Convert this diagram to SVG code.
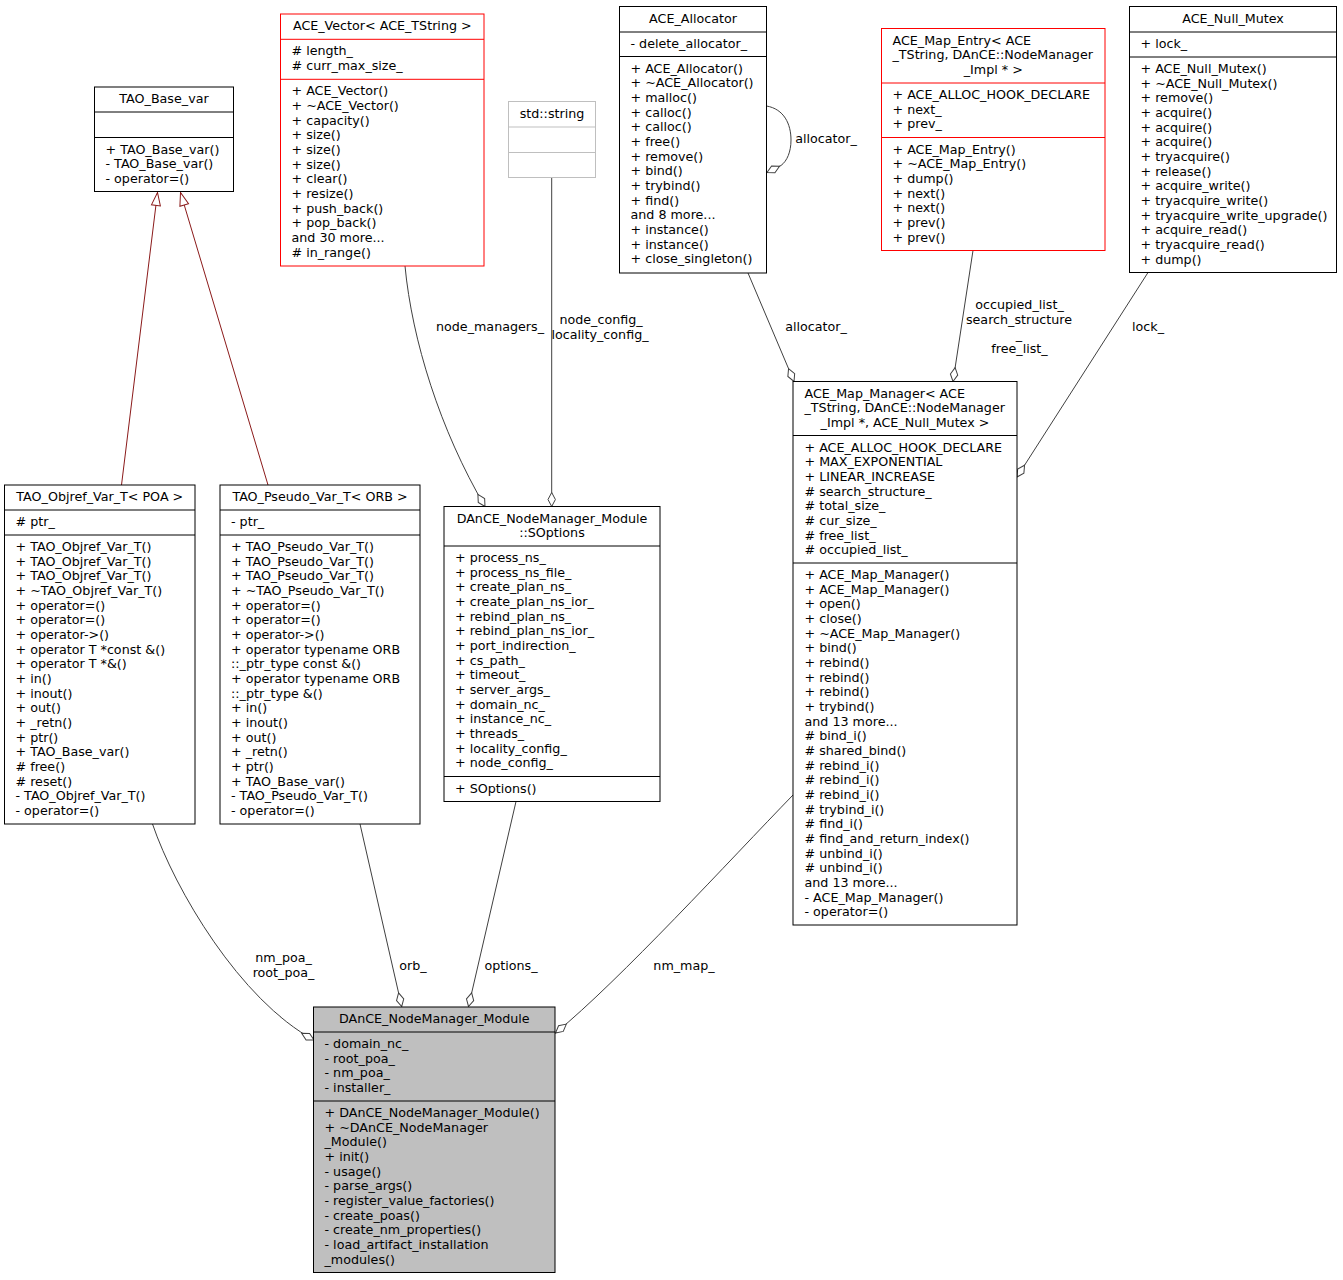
<svg xmlns="http://www.w3.org/2000/svg" width="1343" height="1280" viewBox="0 0 1343 1280">
<style>
text { font-family: "DejaVu Sans", "Bitstream Vera Sans", sans-serif; font-size: 12.7px; fill: #000; }
.c { text-anchor: middle; }
.box { fill: #fff; stroke: #000; stroke-width: 1; }
.red { fill: #fff; stroke: #ff0000; stroke-width: 1; }
.ext { fill: #fff; stroke: #bfbfbf; stroke-width: 1; }
.cur { fill: #bfbfbf; stroke: #000; stroke-width: 1; }
.sep { stroke: #000; stroke-width: 1; }
.sepr { stroke: #ff0000; stroke-width: 1; }
.sepg { stroke: #bfbfbf; stroke-width: 1; }
.use { fill: none; stroke: #404040; stroke-width: 1; marker-end: url(#dia); }
.inh { fill: none; stroke: #8b1a1a; stroke-width: 1; marker-end: url(#tri); }
</style>
<defs>
<marker id="dia" viewBox="0 0 15 8" markerUnits="userSpaceOnUse" markerWidth="15" markerHeight="8" refX="14" refY="4" orient="auto" overflow="visible">
<path d="M0,4 L7,0.3 L14,4 L7,7.7 Z" fill="#fff" stroke="#404040" stroke-width="1"/>
</marker>
<marker id="tri" viewBox="0 0 14 10" markerUnits="userSpaceOnUse" markerWidth="14" markerHeight="10" refX="13" refY="5" orient="auto" overflow="visible">
<path d="M0,0.5 L13,5 L0,9.5 Z" fill="#fff" stroke="#8b1a1a" stroke-width="1"/>
</marker>
</defs>
<rect width="1343" height="1280" fill="#fff"/>

<g id="connectors">
<path class="inh" d="M121.5,485 L157.5,192.5"/>
<path class="inh" d="M268,485 L180.5,192.5"/>
<path class="use" d="M152.5,824 C175,890 240,1000 314,1040"/>
<path class="use" d="M360,824 L401.7,1006.5"/>
<path class="use" d="M516,801.5 L468.5,1006.5"/>
<path class="use" d="M793,795 C730,860 620,980 555.5,1033"/>
<path class="use" d="M405,266 C412,340 440,430 485,506.5"/>
<path class="use" d="M551.7,177.5 L551.7,506.5"/>
<path class="use" d="M748,273 L794,381.5"/>
<path class="use" d="M766.5,106 C784,109 791,124 791,140 C791,152 787,161 781,165.5 L767,172.5"/>
<path class="use" d="M973,250.5 L953,381.5"/>
<path class="use" d="M1148,272.5 L1017,477"/>
<text class="c" x="283.5" y="962.3">nm_poa_</text>
<text class="c" x="283.5" y="977">root_poa_</text>
<text class="c" x="413" y="970">orb_</text>
<text class="c" x="511" y="970">options_</text>
<text class="c" x="684" y="970">nm_map_</text>
<text class="c" x="490" y="331">node_managers_</text>
<text class="c" x="601" y="324.3">node_config_</text>
<text class="c" x="600" y="339">locality_config_</text>
<text class="c" x="816" y="331">allocator_</text>
<text class="c" x="826" y="142.5">allocator_</text>
<text class="c" x="1019.5" y="309.3">occupied_list_</text>
<text class="c" x="1019" y="324">search_structure</text>
<text class="c" x="1019" y="338.6">_</text>
<text class="c" x="1019.5" y="353.3">free_list_</text>
<text class="c" x="1148" y="331">lock_</text>
</g>

<g id="TAO_Base_var">
<rect class="box" x="94.5" y="87" width="139" height="104.5"/>
<line class="sep" x1="94.5" y1="112" x2="233.5" y2="112"/>
<line class="sep" x1="94.5" y1="137.5" x2="233.5" y2="137.5"/>
<text class="c" x="164" y="103">TAO_Base_var</text>
<text x="105.5" y="153.5">+ TAO_Base_var()</text>
<text x="105.5" y="168.2">- TAO_Base_var()</text>
<text x="105.5" y="182.8">- operator=()</text>
</g>

<g id="ACE_Vector">
<rect class="red" x="280.5" y="14" width="203.5" height="252"/>
<line class="sepr" x1="280.5" y1="39.3" x2="484" y2="39.3"/>
<line class="sepr" x1="280.5" y1="79.3" x2="484" y2="79.3"/>
<text class="c" x="382.3" y="30">ACE_Vector&lt; ACE_TString &gt;</text>
<text x="291.5" y="55.3"># length_</text>
<text x="291.5" y="70"># curr_max_size_</text>
<text x="291.5" y="95.3">+ ACE_Vector()</text>
<text x="291.5" y="110">+ ~ACE_Vector()</text>
<text x="291.5" y="124.6">+ capacity()</text>
<text x="291.5" y="139.3">+ size()</text>
<text x="291.5" y="154">+ size()</text>
<text x="291.5" y="168.6">+ size()</text>
<text x="291.5" y="183.3">+ clear()</text>
<text x="291.5" y="198">+ resize()</text>
<text x="291.5" y="212.7">+ push_back()</text>
<text x="291.5" y="227.3">+ pop_back()</text>
<text x="291.5" y="242">and 30 more...</text>
<text x="291.5" y="256.7"># in_range()</text>
</g>

<g id="std_string">
<rect class="ext" x="508.5" y="101.5" width="87" height="76"/>
<line class="sepg" x1="508.5" y1="127" x2="595.5" y2="127"/>
<line class="sepg" x1="508.5" y1="152.5" x2="595.5" y2="152.5"/>
<text class="c" x="552" y="117.5">std::string</text>
</g>

<g id="ACE_Allocator">
<rect class="box" x="619.5" y="6.5" width="147" height="266.5"/>
<line class="sep" x1="619.5" y1="32" x2="766.5" y2="32"/>
<line class="sep" x1="619.5" y1="56.5" x2="766.5" y2="56.5"/>
<text class="c" x="693" y="22.5">ACE_Allocator</text>
<text x="630.5" y="48">- delete_allocator_</text>
<text x="630.5" y="72.5">+ ACE_Allocator()</text>
<text x="630.5" y="87.2">+ ~ACE_Allocator()</text>
<text x="630.5" y="101.8">+ malloc()</text>
<text x="630.5" y="116.5">+ calloc()</text>
<text x="630.5" y="131.2">+ calloc()</text>
<text x="630.5" y="145.8">+ free()</text>
<text x="630.5" y="160.5">+ remove()</text>
<text x="630.5" y="175.2">+ bind()</text>
<text x="630.5" y="189.9">+ trybind()</text>
<text x="630.5" y="204.5">+ find()</text>
<text x="630.5" y="219.2">and 8 more...</text>
<text x="630.5" y="233.9">+ instance()</text>
<text x="630.5" y="248.5">+ instance()</text>
<text x="630.5" y="263.2">+ close_singleton()</text>
</g>

<g id="ACE_Map_Entry">
<rect class="red" x="881.5" y="28.5" width="223.5" height="222"/>
<line class="sepr" x1="881.5" y1="83" x2="1105" y2="83"/>
<line class="sepr" x1="881.5" y1="137.5" x2="1105" y2="137.5"/>
<text x="892.5" y="44.5">ACE_Map_Entry&lt; ACE</text>
<text x="892.5" y="59.2">_TString, DAnCE::NodeManager</text>
<text class="c" x="993.3" y="73.8">_Impl * &gt;</text>
<text x="892.5" y="99">+ ACE_ALLOC_HOOK_DECLARE</text>
<text x="892.5" y="113.7">+ next_</text>
<text x="892.5" y="128.3">+ prev_</text>
<text x="892.5" y="153.5">+ ACE_Map_Entry()</text>
<text x="892.5" y="168.2">+ ~ACE_Map_Entry()</text>
<text x="892.5" y="182.8">+ dump()</text>
<text x="892.5" y="197.5">+ next()</text>
<text x="892.5" y="212.2">+ next()</text>
<text x="892.5" y="226.8">+ prev()</text>
<text x="892.5" y="241.5">+ prev()</text>
</g>

<g id="ACE_Null_Mutex">
<rect class="box" x="1129.5" y="6.5" width="207" height="266"/>
<line class="sep" x1="1129.5" y1="32" x2="1336.5" y2="32"/>
<line class="sep" x1="1129.5" y1="57" x2="1336.5" y2="57"/>
<text class="c" x="1233" y="22.5">ACE_Null_Mutex</text>
<text x="1140.5" y="48">+ lock_</text>
<text x="1140.5" y="73">+ ACE_Null_Mutex()</text>
<text x="1140.5" y="87.7">+ ~ACE_Null_Mutex()</text>
<text x="1140.5" y="102.3">+ remove()</text>
<text x="1140.5" y="117">+ acquire()</text>
<text x="1140.5" y="131.7">+ acquire()</text>
<text x="1140.5" y="146.3">+ acquire()</text>
<text x="1140.5" y="161">+ tryacquire()</text>
<text x="1140.5" y="175.7">+ release()</text>
<text x="1140.5" y="190.4">+ acquire_write()</text>
<text x="1140.5" y="205">+ tryacquire_write()</text>
<text x="1140.5" y="219.7">+ tryacquire_write_upgrade()</text>
<text x="1140.5" y="234.4">+ acquire_read()</text>
<text x="1140.5" y="249">+ tryacquire_read()</text>
<text x="1140.5" y="263.7">+ dump()</text>
</g>

<g id="TAO_Objref_Var_T">
<rect class="box" x="4.5" y="485" width="190.5" height="339"/>
<line class="sep" x1="4.5" y1="510" x2="195" y2="510"/>
<line class="sep" x1="4.5" y1="535" x2="195" y2="535"/>
<text class="c" x="99.8" y="501">TAO_Objref_Var_T&lt; POA &gt;</text>
<text x="15.5" y="526"># ptr_</text>
<text x="15.5" y="551">+ TAO_Objref_Var_T()</text>
<text x="15.5" y="565.7">+ TAO_Objref_Var_T()</text>
<text x="15.5" y="580.3">+ TAO_Objref_Var_T()</text>
<text x="15.5" y="595">+ ~TAO_Objref_Var_T()</text>
<text x="15.5" y="609.7">+ operator=()</text>
<text x="15.5" y="624.4">+ operator=()</text>
<text x="15.5" y="639">+ operator-&gt;()</text>
<text x="15.5" y="653.7">+ operator T *const &amp;()</text>
<text x="15.5" y="668.4">+ operator T *&amp;()</text>
<text x="15.5" y="683">+ in()</text>
<text x="15.5" y="697.7">+ inout()</text>
<text x="15.5" y="712.4">+ out()</text>
<text x="15.5" y="727">+ _retn()</text>
<text x="15.5" y="741.7">+ ptr()</text>
<text x="15.5" y="756.4">+ TAO_Base_var()</text>
<text x="15.5" y="771"># free()</text>
<text x="15.5" y="785.7"># reset()</text>
<text x="15.5" y="800.4">- TAO_Objref_Var_T()</text>
<text x="15.5" y="815">- operator=()</text>
</g>

<g id="TAO_Pseudo_Var_T">
<rect class="box" x="220" y="485" width="200" height="339"/>
<line class="sep" x1="220" y1="510" x2="420" y2="510"/>
<line class="sep" x1="220" y1="535" x2="420" y2="535"/>
<text class="c" x="320" y="501">TAO_Pseudo_Var_T&lt; ORB &gt;</text>
<text x="231" y="526">- ptr_</text>
<text x="231" y="551">+ TAO_Pseudo_Var_T()</text>
<text x="231" y="565.7">+ TAO_Pseudo_Var_T()</text>
<text x="231" y="580.3">+ TAO_Pseudo_Var_T()</text>
<text x="231" y="595">+ ~TAO_Pseudo_Var_T()</text>
<text x="231" y="609.7">+ operator=()</text>
<text x="231" y="624.4">+ operator=()</text>
<text x="231" y="639">+ operator-&gt;()</text>
<text x="231" y="653.7">+ operator typename ORB</text>
<text x="231" y="668.4">::_ptr_type const &amp;()</text>
<text x="231" y="683">+ operator typename ORB</text>
<text x="231" y="697.7">::_ptr_type &amp;()</text>
<text x="231" y="712.4">+ in()</text>
<text x="231" y="727">+ inout()</text>
<text x="231" y="741.7">+ out()</text>
<text x="231" y="756.4">+ _retn()</text>
<text x="231" y="771">+ ptr()</text>
<text x="231" y="785.7">+ TAO_Base_var()</text>
<text x="231" y="800.4">- TAO_Pseudo_Var_T()</text>
<text x="231" y="815">- operator=()</text>
</g>

<g id="SOptions">
<rect class="box" x="444" y="506.5" width="216" height="295"/>
<line class="sep" x1="444" y1="546" x2="660" y2="546"/>
<line class="sep" x1="444" y1="776.5" x2="660" y2="776.5"/>
<text class="c" x="552" y="522.5">DAnCE_NodeManager_Module</text>
<text class="c" x="552" y="537.2">::SOptions</text>
<text x="455" y="562">+ process_ns_</text>
<text x="455" y="576.7">+ process_ns_file_</text>
<text x="455" y="591.3">+ create_plan_ns_</text>
<text x="455" y="606">+ create_plan_ns_ior_</text>
<text x="455" y="620.7">+ rebind_plan_ns_</text>
<text x="455" y="635.4">+ rebind_plan_ns_ior_</text>
<text x="455" y="650">+ port_indirection_</text>
<text x="455" y="664.7">+ cs_path_</text>
<text x="455" y="679.4">+ timeout_</text>
<text x="455" y="694">+ server_args_</text>
<text x="455" y="708.7">+ domain_nc_</text>
<text x="455" y="723.4">+ instance_nc_</text>
<text x="455" y="738">+ threads_</text>
<text x="455" y="752.7">+ locality_config_</text>
<text x="455" y="767.4">+ node_config_</text>
<text x="455" y="792.5">+ SOptions()</text>
</g>

<g id="ACE_Map_Manager">
<rect class="box" x="793" y="381.5" width="224" height="543.5"/>
<line class="sep" x1="793" y1="435.5" x2="1017" y2="435.5"/>
<line class="sep" x1="793" y1="563" x2="1017" y2="563"/>
<text x="804.5" y="397.5">ACE_Map_Manager&lt; ACE</text>
<text x="804.5" y="412.2">_TString, DAnCE::NodeManager</text>
<text class="c" x="905" y="426.8">_Impl *, ACE_Null_Mutex &gt;</text>
<text x="804.5" y="451.5">+ ACE_ALLOC_HOOK_DECLARE</text>
<text x="804.5" y="466.2">+ MAX_EXPONENTIAL</text>
<text x="804.5" y="480.8">+ LINEAR_INCREASE</text>
<text x="804.5" y="495.5"># search_structure_</text>
<text x="804.5" y="510.2"># total_size_</text>
<text x="804.5" y="524.8"># cur_size_</text>
<text x="804.5" y="539.5"># free_list_</text>
<text x="804.5" y="554.2"># occupied_list_</text>
<text x="804.5" y="579">+ ACE_Map_Manager()</text>
<text x="804.5" y="593.7">+ ACE_Map_Manager()</text>
<text x="804.5" y="608.3">+ open()</text>
<text x="804.5" y="623">+ close()</text>
<text x="804.5" y="637.7">+ ~ACE_Map_Manager()</text>
<text x="804.5" y="652.4">+ bind()</text>
<text x="804.5" y="667">+ rebind()</text>
<text x="804.5" y="681.7">+ rebind()</text>
<text x="804.5" y="696.4">+ rebind()</text>
<text x="804.5" y="711">+ trybind()</text>
<text x="804.5" y="725.7">and 13 more...</text>
<text x="804.5" y="740.4"># bind_i()</text>
<text x="804.5" y="755"># shared_bind()</text>
<text x="804.5" y="769.7"># rebind_i()</text>
<text x="804.5" y="784.4"># rebind_i()</text>
<text x="804.5" y="799"># rebind_i()</text>
<text x="804.5" y="813.7"># trybind_i()</text>
<text x="804.5" y="828.4"># find_i()</text>
<text x="804.5" y="843"># find_and_return_index()</text>
<text x="804.5" y="857.7"># unbind_i()</text>
<text x="804.5" y="872.4"># unbind_i()</text>
<text x="804.5" y="887">and 13 more...</text>
<text x="804.5" y="901.7">- ACE_Map_Manager()</text>
<text x="804.5" y="916.4">- operator=()</text>
</g>

<g id="DAnCE_NodeManager_Module">
<rect class="cur" x="313.5" y="1007" width="241.5" height="265.5"/>
<line class="sep" x1="313.5" y1="1032" x2="555" y2="1032"/>
<line class="sep" x1="313.5" y1="1101" x2="555" y2="1101"/>
<text class="c" x="434.3" y="1023">DAnCE_NodeManager_Module</text>
<text x="324.5" y="1048">- domain_nc_</text>
<text x="324.5" y="1062.7">- root_poa_</text>
<text x="324.5" y="1077.3">- nm_poa_</text>
<text x="324.5" y="1092">- installer_</text>
<text x="324.5" y="1117">+ DAnCE_NodeManager_Module()</text>
<text x="324.5" y="1131.7">+ ~DAnCE_NodeManager</text>
<text x="324.5" y="1146.3">_Module()</text>
<text x="324.5" y="1161">+ init()</text>
<text x="324.5" y="1175.7">- usage()</text>
<text x="324.5" y="1190.4">- parse_args()</text>
<text x="324.5" y="1205">- register_value_factories()</text>
<text x="324.5" y="1219.7">- create_poas()</text>
<text x="324.5" y="1234.4">- create_nm_properties()</text>
<text x="324.5" y="1249">- load_artifact_installation</text>
<text x="324.5" y="1263.7">_modules()</text>
</g>
</svg>
